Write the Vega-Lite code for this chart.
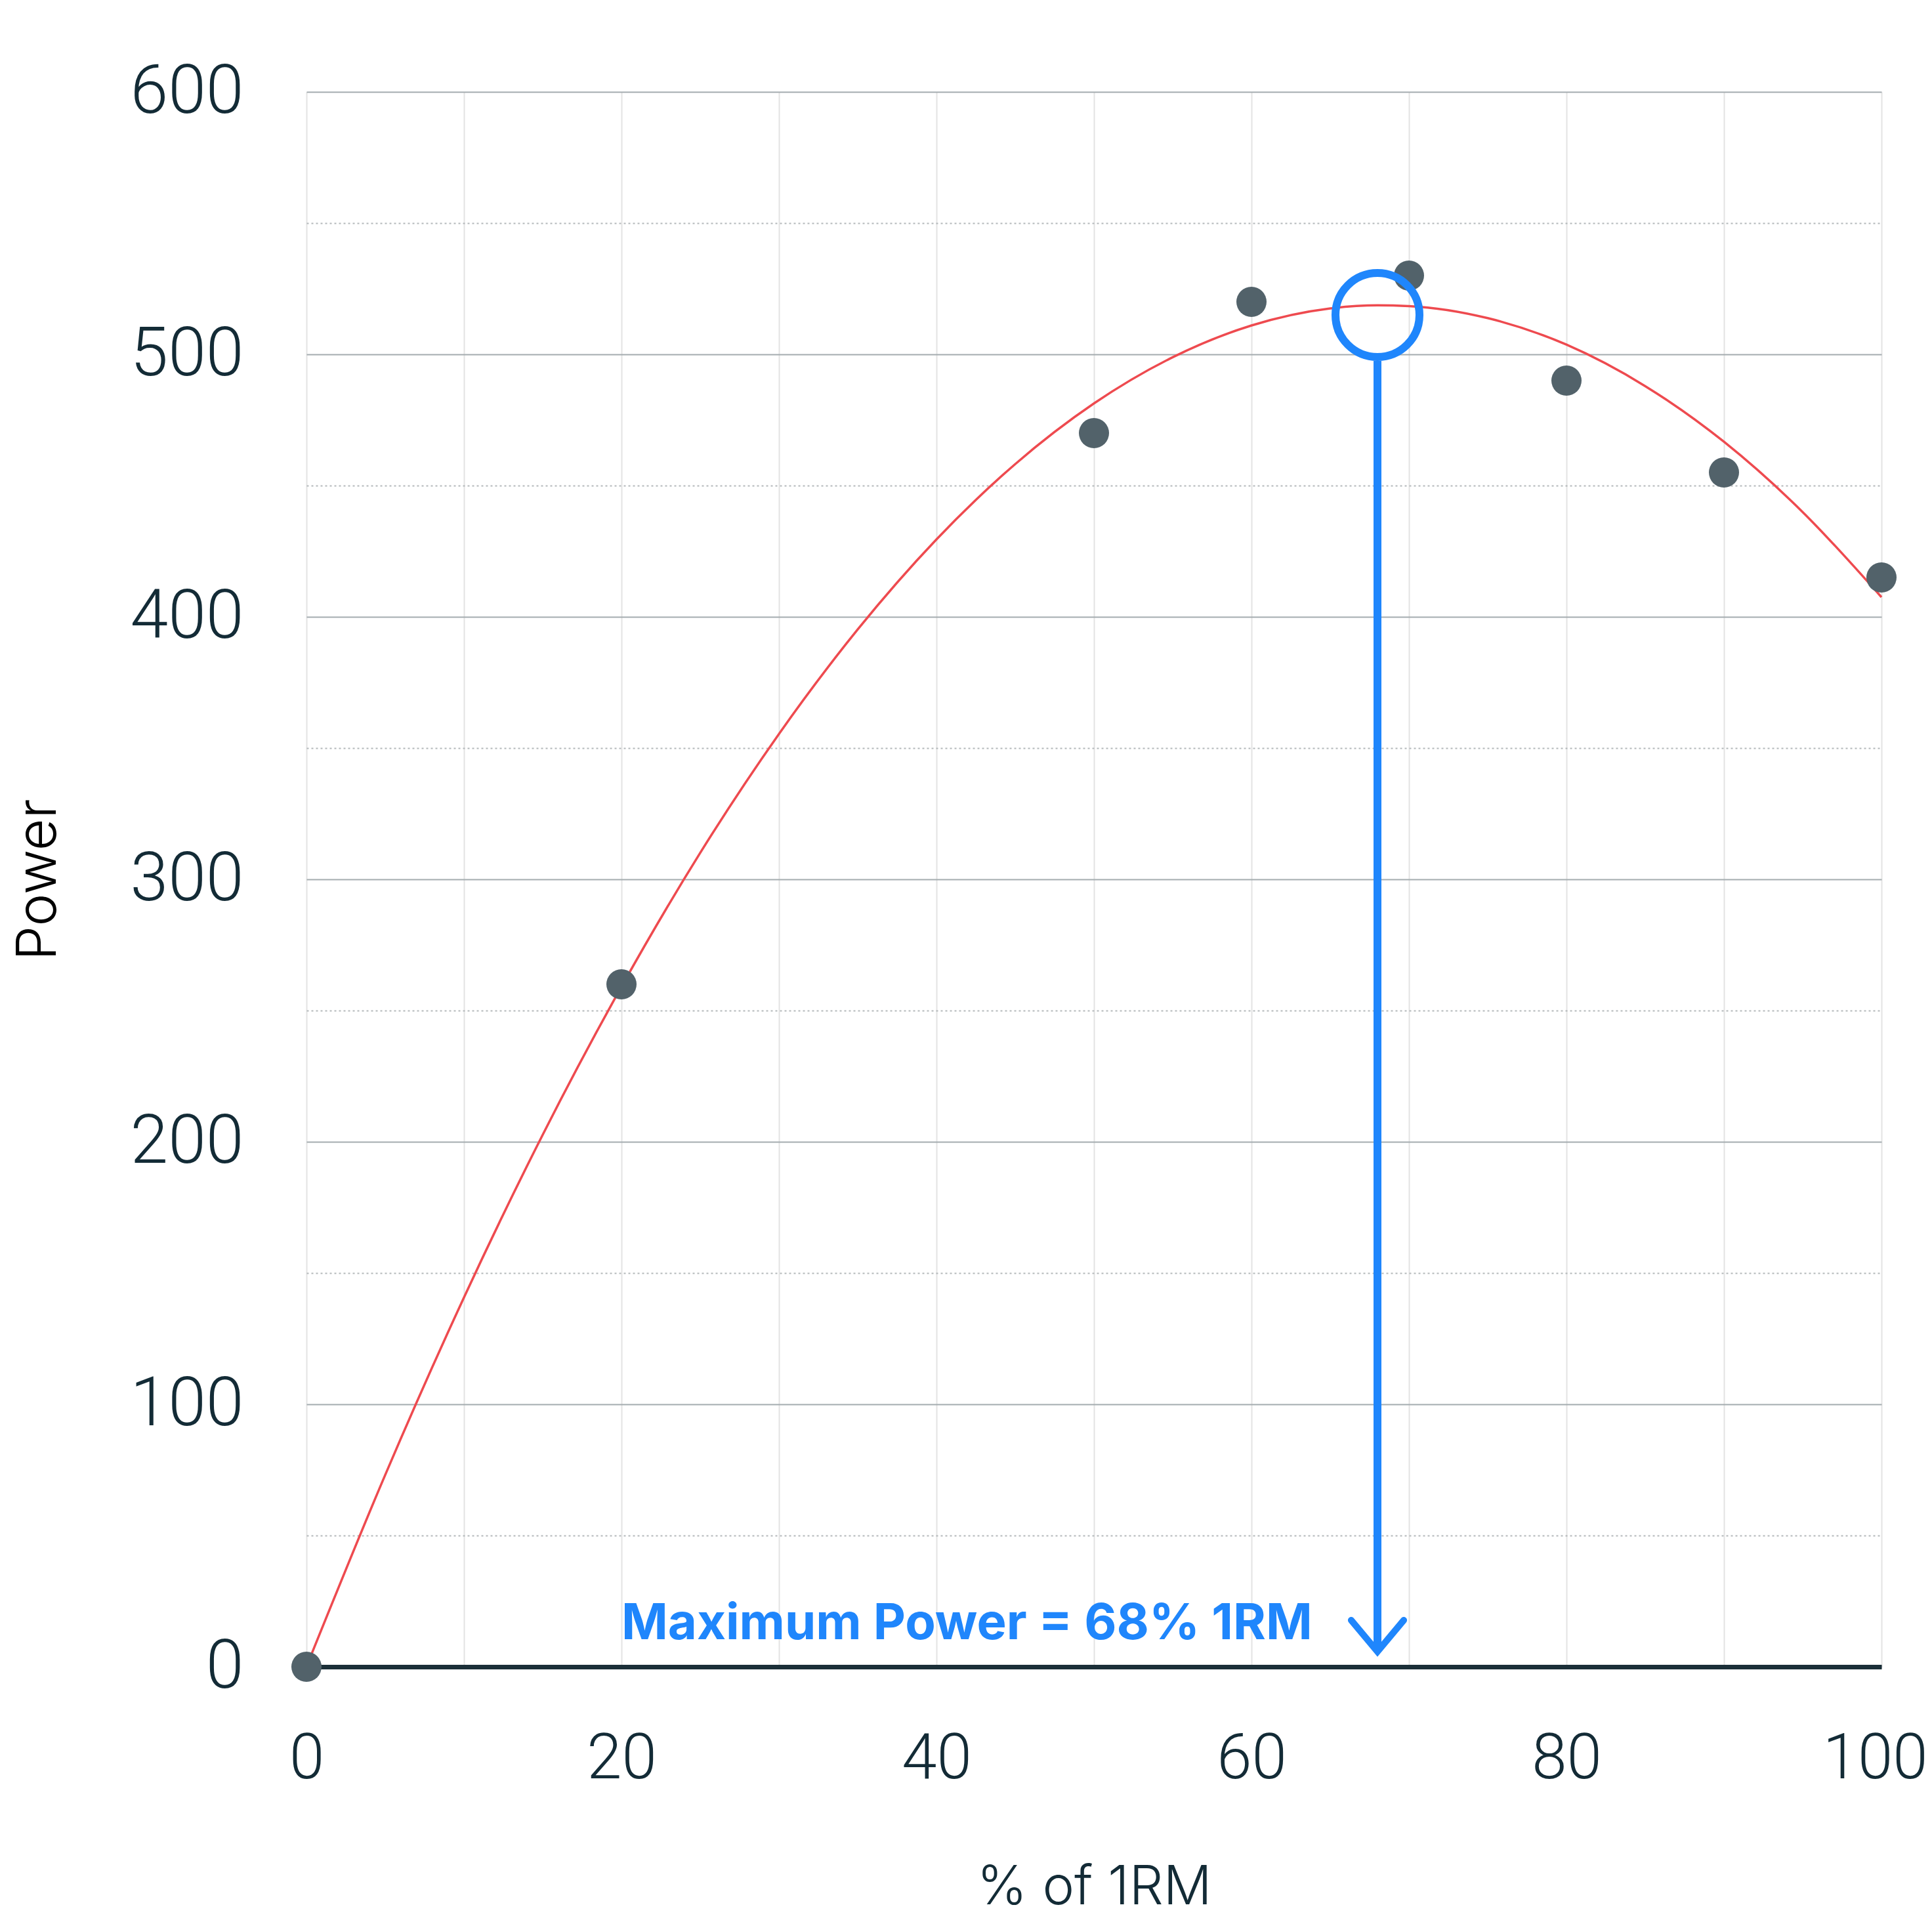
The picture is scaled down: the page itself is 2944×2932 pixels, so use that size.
{
  "$schema": "https://vega.github.io/schema/vega-lite/v6.json",
  "width": 2400,
  "height": 2400,
  "autosize": {"type": "none"},
  "padding": {"left": 467, "top": 140, "right": 77, "bottom": 392},
  "background": "white",
  "config": {
    "view": {"stroke": null},
    "font": "Inter",
    "axis": {"labelFont": "Roboto", "titleFont": "Inter"}
  },
  "datasets": {
    "obs": [
      {"pct": 0, "power": 0},
      {"pct": 20, "power": 260},
      {"pct": 50, "power": 470},
      {"pct": 60, "power": 520},
      {"pct": 70, "power": 530},
      {"pct": 80, "power": 490},
      {"pct": 90, "power": 455},
      {"pct": 100, "power": 415}
    ],
    "fit": [
      {"pct": 0, "power": 0},
      {"pct": 5, "power": 73.1},
      {"pct": 10, "power": 140.7},
      {"pct": 15, "power": 202.7},
      {"pct": 20, "power": 259.1},
      {"pct": 25, "power": 310.1},
      {"pct": 30, "power": 355.4},
      {"pct": 35, "power": 395.2},
      {"pct": 40, "power": 429.5},
      {"pct": 45, "power": 458.2},
      {"pct": 50, "power": 481.3},
      {"pct": 55, "power": 498.9},
      {"pct": 60, "power": 511.0},
      {"pct": 65, "power": 517.5},
      {"pct": 68, "power": 518.7},
      {"pct": 70, "power": 518.4},
      {"pct": 75, "power": 513.8},
      {"pct": 80, "power": 503.7},
      {"pct": 85, "power": 487.9},
      {"pct": 90, "power": 466.7},
      {"pct": 95, "power": 439.9},
      {"pct": 100, "power": 407.5}
    ],
    "peak": [
      {"pct": 68, "power": 515, "bottom": 497.5, "tip": 6.5, "label": "Maximum Power = 68% 1RM", "labelX": 20, "labelY": 10.5}
    ],
    "arrow": [
      {"pct": 66.33, "power": 17.75, "order": 1},
      {"pct": 68, "power": 5.75, "order": 2},
      {"pct": 69.67, "power": 17.75, "order": 3}
    ]
  },
  "layer": [
    {
      "data": {"name": "fit"},
      "mark": {"type": "line", "color": "#ee4a4f", "strokeWidth": 3.5, "interpolate": "monotone", "clip": false},
      "encoding": {
        "x": {
          "field": "pct", "type": "quantitative",
          "scale": {"domain": [0, 100], "nice": false},
          "axis": {
            "values": [0, 10, 20, 30, 40, 50, 60, 70, 80, 90, 100],
            "labelExpr": "datum.value % 20 === 0 ? datum.label : ''",
            "labelFlush": false, "labelOverlap": false, "labelLimit": 0, "labelBound": false,
            "labelOffset": {"condition": {"test": "datum.value === 100", "value": -10}, "value": 0},
            "title": "% of 1RM",
            "grid": true, "gridColor": "#e3e3e3", "gridWidth": 2,
            "domain": true, "domainColor": "#1b2f38", "domainWidth": 7,
            "ticks": false,
            "labelFontSize": 96, "labelColor": "#132b36", "labelPadding": 93, "labelFontWeight": 300,
            "titleFontSize": 82, "titleColor": "#132b36", "titleFontWeight": 300, "titlePadding": 108
          }
        },
        "y": {
          "field": "power", "type": "quantitative",
          "scale": {"domain": [0, 600], "nice": false},
          "axis": {
            "values": [0, 50, 100, 150, 200, 250, 300, 350, 400, 450, 500, 550, 600],
            "labelExpr": "datum.value % 100 === 0 ? datum.label : ''",
            "labelFlush": false, "labelOverlap": false, "labelLimit": 0, "labelBound": false,
            "title": "Power",
            "titleX": -408, "titleY": 1200, "titleAngle": -90, "titleAlign": "center", "titleBaseline": "middle",
            "grid": true,
            "gridColor": {"condition": {"test": "datum.value % 100 !== 0", "value": "#b3b8ba"}, "value": "#a4acaf"},
            "gridDash": {"condition": {"test": "datum.value % 100 !== 0", "value": [3, 4]}, "value": []},
            "gridWidth": 2,
            "domain": false, "ticks": false,
            "labelFontSize": 104, "labelColor": "#132b36", "labelPadding": 96, "labelFontWeight": 300,
            "titleFontSize": 84, "titleColor": "#000000", "titleFontWeight": 300
          }
        }
      }
    },
    {
      "data": {"name": "obs"},
      "mark": {"type": "point", "filled": true, "shape": "circle", "size": 2116, "color": "#52626a", "opacity": 1, "clip": false},
      "encoding": {
        "x": {"field": "pct", "type": "quantitative"},
        "y": {"field": "power", "type": "quantitative"}
      }
    },
    {
      "data": {"name": "peak"},
      "mark": {"type": "rule", "color": "#1f86fc", "strokeWidth": 12},
      "encoding": {
        "x": {"field": "pct", "type": "quantitative"},
        "y": {"field": "bottom", "type": "quantitative"},
        "y2": {"field": "tip"}
      }
    },
    {
      "data": {"name": "peak"},
      "mark": {"type": "point", "filled": false, "shape": "circle", "size": 16384, "stroke": "#1f86fc", "strokeWidth": 12, "opacity": 1},
      "encoding": {
        "x": {"field": "pct", "type": "quantitative"},
        "y": {"field": "power", "type": "quantitative"}
      }
    },
    {
      "data": {"name": "arrow"},
      "mark": {"type": "line", "color": "#1f86fc", "strokeWidth": 10, "strokeCap": "round", "strokeJoin": "miter"},
      "encoding": {
        "x": {"field": "pct", "type": "quantitative"},
        "y": {"field": "power", "type": "quantitative"},
        "order": {"field": "order"}
      }
    },
    {
      "data": {"name": "peak"},
      "mark": {"type": "text", "color": "#1f86fc", "fontSize": 76, "fontWeight": "bold", "align": "left", "baseline": "alphabetic", "font": "Inter"},
      "encoding": {
        "x": {"field": "labelX", "type": "quantitative"},
        "y": {"field": "labelY", "type": "quantitative"},
        "text": {"field": "label"}
      }
    }
  ]
}
